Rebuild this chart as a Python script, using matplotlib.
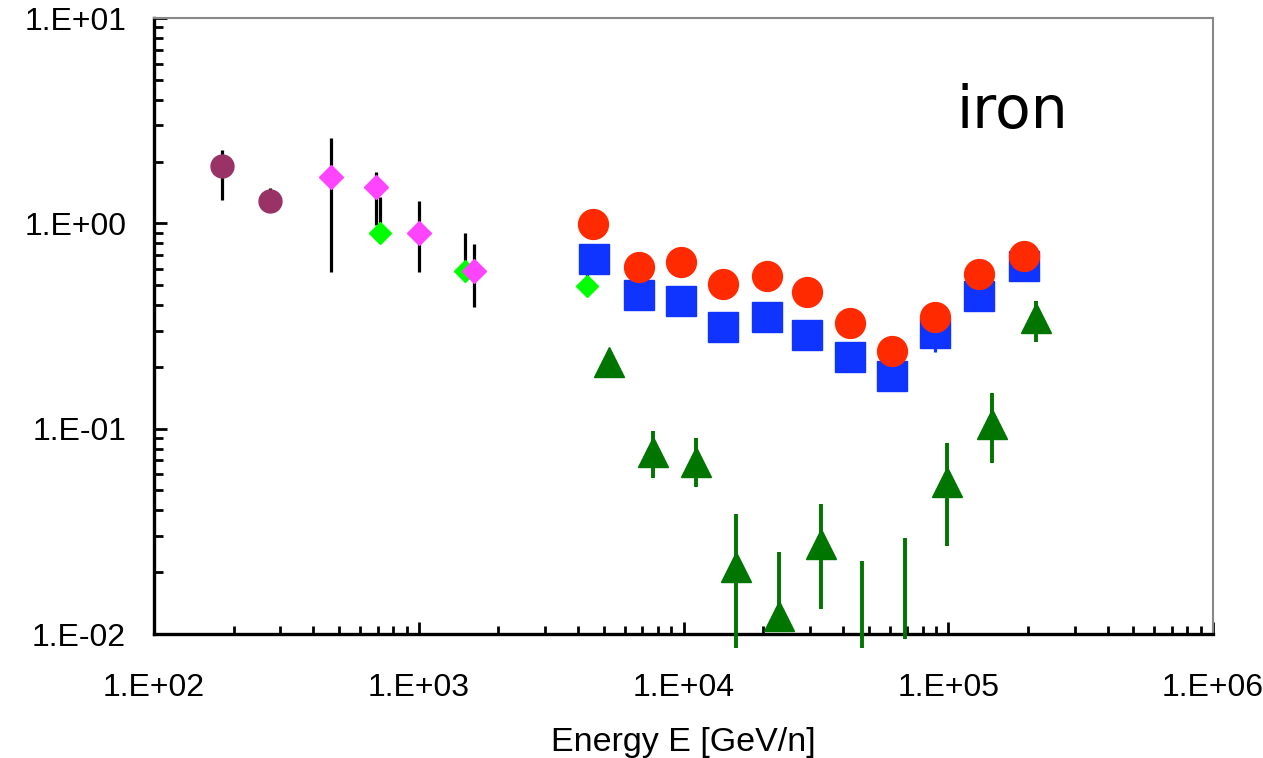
import numpy as np
import matplotlib
matplotlib.use("Agg")
import matplotlib.pyplot as plt
from matplotlib.ticker import LogLocator, FuncFormatter, NullFormatter

plt.rcParams['font.family'] = ['Liberation Sans', 'DejaVu Sans']

# energy [GeV/n], value, error bar low / high
mar_E = [181, 274]
mar_v = [1.90, 1.28]
mar_lo = [1.30, 1.20]
mar_hi = [2.28, 1.48]

grn_E = [711, 1490, 4325]
grn_v = [0.894, 0.588, 0.495]
grn_lo = [0.98, 0.588, 0.495]
grn_hi = [1.35, 0.90, 0.58]

mag_E = [466, 687, 1004, 1612]
mag_v = [1.69, 1.50, 0.90, 0.588]
mag_lo = [0.58, 0.98, 0.58, 0.39]
mag_hi = [2.59, 1.78, 1.28, 0.793]

sq_E = [4610, 6776, 9827, 14130, 20720, 29350, 42540, 61140, 88900, 130800, 193500]
sq_v = [0.670, 0.448, 0.420, 0.313, 0.348, 0.285, 0.224, 0.181, 0.291, 0.443, 0.620]
sq_lo = [0.670, 0.448, 0.420, 0.313, 0.348, 0.285, 0.224, 0.165, 0.237, 0.443, 0.600]

red_E = [4557, 6776, 9827, 14130, 20720, 29350, 42540, 61140, 88900, 130800, 193500]
red_v = [0.992, 0.611, 0.650, 0.506, 0.556, 0.461, 0.328, 0.239, 0.348, 0.567, 0.693]

tri_E = [5221, 7680, 11170, 15820, 22930, 32960, 47100, 68470, 99300, 146100, 214200]
tri_v = [0.212, 0.0767, 0.069, 0.0212, 0.0122, 0.0275, 0.005, 0.005, 0.0548, 0.1057, 0.3445]
tri_lo = [0.212, 0.0573, 0.0521, 0.0085, 0.0122, 0.0133, 0.0085, 0.0095, 0.0268, 0.0678, 0.265]
tri_hi = [0.212, 0.0977, 0.0903, 0.0383, 0.0251, 0.0428, 0.0226, 0.0292, 0.0848, 0.1486, 0.42]

fig = plt.figure(figsize=(12.63, 7.58), dpi=100)
ax = fig.add_axes([154/1263, 1 - 634/758, (1213-154)/1263, (634-18)/758])
ax.set_xscale('log')
ax.set_yscale('log')
ax.set_xlim(1e2, 1e6)
ax.set_ylim(1e-2, 1e1)

def series(E, v, lo, hi, marker, color, ms, barcolor='black', lw=2.3, z=3):
    ax.vlines(E, lo, hi, colors=barcolor, lw=lw, zorder=z, clip_on=False)
    ax.plot(E, v, ls='none', marker=marker, color=color, ms=ms, mec=color,
            zorder=z + 0.5)

series(mar_E, mar_v, mar_lo, mar_hi, 'o', '#993366', 16.5)
series(grn_E, grn_v, grn_lo, grn_hi, 'D', '#00ff00', 11.5)
series(mag_E, mag_v, mag_lo, mag_hi, 'D', '#ff44ff', 12)
series(sq_E, sq_v, sq_lo, sq_v, 's', '#1034ff', 21.5, barcolor='#1034ff', z=4)
ax.plot(red_E, red_v, ls='none', marker='o', color='#ff2a00', ms=21.5, zorder=5)
series(tri_E, tri_v, tri_lo, tri_hi, '^', '#007500', 21, barcolor='#007500',
       lw=2.8, z=6)

fmt = FuncFormatter(lambda v, p: "1.E%+03d" % int(round(np.log10(v))))
for a in (ax.xaxis, ax.yaxis):
    a.set_major_locator(LogLocator(base=10, numticks=10))
    a.set_minor_locator(LogLocator(base=10, subs=np.arange(2, 10), numticks=20))
    a.set_major_formatter(fmt)
    a.set_minor_formatter(NullFormatter())

ax.tick_params(which='both', direction='in', width=2, top=False, right=False,
               labelsize=23, colors='black')
ax.tick_params(axis='x', which='major', length=8.5, pad=28)
ax.tick_params(axis='x', which='minor', length=5.5)
ax.tick_params(axis='y', which='major', length=9, pad=20)
ax.tick_params(axis='y', which='minor', length=6.5)

for s in ('left', 'bottom'):
    ax.spines[s].set_linewidth(2.4)
    ax.spines[s].set_color('black')
for s in ('top', 'right'):
    ax.spines[s].set_linewidth(1.5)
    ax.spines[s].set_color('#888888')

ax.set_xlabel('Energy E [GeV/n]', fontsize=24.5, labelpad=17)

fig.text(957/1263, 1 - 128/758, 'iron', fontsize=42, family='DejaVu Sans',
         va='baseline', ha='left')

fig.savefig('out.png', dpi=100)
